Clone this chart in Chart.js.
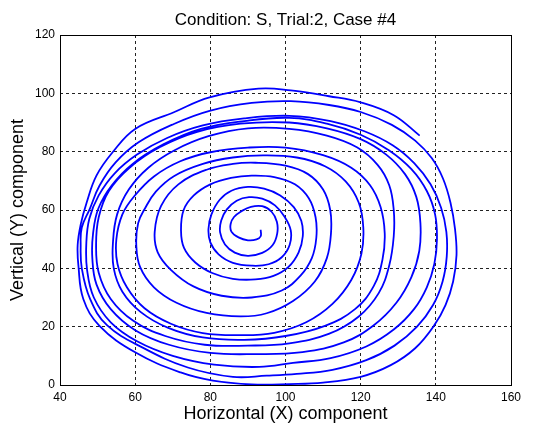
<!DOCTYPE html>
<html>
<head>
<meta charset="utf-8">
<script src="https://cdn.jsdelivr.net/npm/chart.js@4.4.1/dist/chart.umd.min.js"></script>
<style>
  html, body { margin: 0; padding: 0; background: #fff; }
  canvas { display: block; }
</style>
</head>
<body>
<canvas id="spiralChart" width="540" height="428"></canvas>
<script>
const chartTitle = 'Condition: S, Trial:2, Case #4';
const xTitle = 'Horizontal (X) component';
const yTitle = 'Vertical (Y) component';
const xTicks = [40, 60, 80, 100, 120, 140, 160];
const yTicks = [0, 20, 40, 60, 80, 100, 120];

// pen trace: starts in the centre, winds outward clockwise
const spiral = [
  // turn 0
  [93.4,53.2],[93.4,51],[92.3,49.9],[90,49.6],[87.5,50.6],[85.6,52.6],[85.4,55.2],[86.3,57.6],[88.3,59.6],[90.8,61.1],
  [93.8,61.3],[96.3,59.4],[97.7,56],[97.8,52],[96.6,48],[93.8,45.3],
  // turn 1
  [90,44.3],[86.5,45.4],[83.9,48.2],[82.6,52.3],[82.9,56.4],[84.4,60.2],[87,63.2],[90.3,64.4],[93.8,63.9],[97.2,61.6],
  [99.8,57.6],[101.4,53],[101.1,48],[99,43.8],[95.5,41.4],
  // turn 2
  [91.2,40.9],[86,41.9],[82.2,44.8],[80,48.9],[79.5,53.5],[80.3,58.5],[82.5,63.5],[85.6,66.6],[90,67.9],[94.3,67.3],
  [98.6,65],[102.2,61],[104.2,56.3],[104.6,51],[103.5,45.5],[100.8,40.5],[96.8,37.4],
  // turn 3
  [92,36.2],[86,36.4],[80.5,38.4],[76,42],[73,47],[72.2,53],[72.9,60],[75.6,65],[80,68.8],[85.5,71],[91,71.8],
  [97,71.3],[102.5,68.8],[106.2,64],[108,57.5],[108.2,50.5],[107,43.5],[104,37.5],[99,32.4],
  // turn 4
  [91,30],[83,30.6],[75.5,33.8],[69.5,39.5],[66,45.5],[65.2,52.5],[66.9,61.4],[71.5,68.8],[79,73.8],[86,75.8],
  [92,76.2],[100,75.2],[106,72.3],[110,67],[111.9,60],[112.1,52],[111,43.5],[107.8,35.5],[102,28.8],[95,24.6],
  // turn 5
  [88,23.5],[79,24.7],[71,28.2],[65,33.5],[61.3,40.5],[60.3,48],[60.8,55.5],[62.6,60.5],[65.5,66.3],[70.3,71.6],
  [78,75.8],[86,78],[94,78.7],[103,78],[110.5,75],[116,69.8],[119.5,62.5],[120.7,54],[120.2,45],[117.5,36],
  [112.5,27.8],[105.5,21.5],[97,17.9],
  // turn 6
  [88,17.1],[78,17.8],[69.5,21],[62.5,26.3],[57.8,33.5],[55.3,41.5],[55,50],[56.6,58.5],[59.8,64.8],[65,71.5],
  [72,76.7],[80,79.8],[90,81.4],[100,81.4],[110,78.8],[117.5,74.5],[122.5,68.5],[125.3,61],[126.4,52],[125.8,43],
  [123.5,34],[118.5,26],[110.5,20.3],[100,16.8],
  // turn 7
  [89,15.5],[78,16.3],[68.8,19.6],[61.5,25],[56.6,32],[54.3,40],[54.1,49],[55.2,58.5],[58.3,67],[63.5,74.5],
  [70.5,80.5],[79.5,85.3],[90,88],[101,87.8],[111,85.5],[119,81.5],[124.5,75.5],[127.6,68.5],[128.8,60],[128.8,51],
  [127.6,41],[124.8,31.5],[119.5,23.5],[111.5,17.5],[101,14.3],
  // turn 8
  [90,13.5],[78.5,13.8],[68,16.8],[59.5,22],[53.5,29.5],[50.3,38.5],[49.6,48],[50.3,57.5],[53,66.5],[58.5,74.5],
  [66.5,81.5],[76.5,86.8],[88,89.6],[101,90],[111,88],[120,84.3],[126.8,79],[131.8,72.3],[134.8,64.5],[135.9,55.5],
  [135.6,46],[133.5,37],[129.5,28.2],[123.5,20.5],[115.5,14.6],[104.5,11.3],
  // turn 9
  [92,10.6],[80,11],[69,13.8],[60,18.8],[53.5,26],[49.7,34.5],[48.6,43.5],[48.8,52],[50.2,60.5],[53.8,68.5],
  [59.5,76],[67.5,82.5],[77.5,87.8],[89,90.5],[101,91.6],[111,89.6],[120,85.8],[127.5,80.5],[133.5,74],[137.6,66.5],
  [139.8,58.5],[140.3,50],[139.6,41.5],[137.6,33.5],[134.2,26],[128.8,19],[121.5,13.2],[112,9.2],[102,7.6],
  // turn 10
  [93,6.2],[81,7],[70,10],[60.5,15],[53.5,21.5],[49,30],[47.2,39.5],[47,48.5],[47.8,57],[50.3,65],
  [54.5,72.5],[60.5,79],[68.5,84.7],[78,89],[89,91.4],[101,92.3],[112,90.5],[121,87],[128.5,82.2],[134.3,76],
  [138.6,68.8],[141.4,60.8],[142.8,52.5],[142.9,44],[141.8,35.5],[139.3,27.5],[135,20],[129,13.5],[121.5,8.5],[112.5,5.2],
  [103,3.8],
  // turn 11
  [95,3.2],[86,2.8],[74,6],[62,12.8],[52.5,20.5],[48,29.5],[45.8,40],[45.5,48],[45.8,54],[47.9,60.3],
  [50.5,68.3],[54.8,76.3],[60.9,83.2],[70.3,89.5],[79.8,94],[91,96.7],[101.4,97.3],[111.6,96],[120,93.6],[128.3,89.2],
  [134.5,83.8],[138.9,77.8],[141.9,70.8],[143.9,62.5],[145.1,53.5],[145.5,44.5],[144.6,35.5],[142.6,27.5],[139.5,20.3],[134.5,12.6],
  [128,6.8],[120,2.8],[110,0.8],[101,0.3],
  // turn 12, ends top right
  [91,0.2],[80.7,1.5],[72.1,4.3],[60,11.2],[50.5,20.3],[46.2,29.5],[44.9,40.9],[44.7,48],[45.5,55],[47.1,62.6],
  [49.7,71.8],[54,79.8],[60,87.8],[70.3,93.5],[79.8,98.6],[92.8,101.6],[101.4,101],[111.6,99],[120,96.9],[128.8,92.5],
  [135.7,85.5]
];

Chart.defaults.font.family = '"Liberation Sans", Arial, Helvetica, sans-serif';
Chart.defaults.color = '#000';

// solid black box round the plot, like matlab's axes frame
const axesFrame = {
  id: 'axesFrame',
  afterDraw(chart) {
    const { ctx, chartArea: a } = chart;
    ctx.save();
    ctx.strokeStyle = '#000';
    ctx.lineWidth = 1;
    ctx.strokeRect(Math.round(a.left) + 0.5, Math.round(a.top) + 0.5,
      Math.round(a.right - a.left), Math.round(a.bottom - a.top));
    ctx.restore();
  }
};

const gridOpts = {
  color: '#222',
  lineWidth: 1,
  drawTicks: false
};

new Chart(document.getElementById('spiralChart'), {
  type: 'scatter',
  data: {
    datasets: [{
      data: spiral.map(([x, y]) => ({ x, y })),
      showLine: true,
      borderColor: '#0000ff',
      borderWidth: 1.8,
      pointRadius: 0,
      tension: 0.4,
      fill: false
    }]
  },
  options: {
    responsive: false,
    animation: false,
    events: [],
    layout: { padding: { left: 0, right: 29, top: 0, bottom: 0 } },
    plugins: {
      legend: { display: false },
      tooltip: { enabled: false },
      title: {
        display: true,
        fullSize: false,
        text: chartTitle,
        font: { size: 17, weight: 'normal' },
        color: '#000',
        padding: { top: 10, bottom: 4.6 }
      }
    },
    scales: {
      x: {
        type: 'linear',
        min: 40,
        max: 160,
        afterBuildTicks: (s) => { s.ticks = xTicks.map((v) => ({ value: v })); },
        afterFit: (s) => { s.height = 43; },
        grid: gridOpts,
        border: { display: false, dash: [3, 3] },
        ticks: { font: { size: 12 }, padding: 5, maxRotation: 0 },
        title: { display: true, text: xTitle, font: { size: 18 }, padding: { top: 0, bottom: 3 } }
      },
      y: {
        type: 'linear',
        min: 0,
        max: 120,
        afterBuildTicks: (s) => { s.ticks = yTicks.map((v) => ({ value: v })); },
        afterFit: (s) => { s.width = 60; },
        grid: gridOpts,
        border: { display: false, dash: [3, 3] },
        ticks: { font: { size: 12 }, padding: 5 },
        title: { display: true, text: yTitle, font: { size: 18 }, padding: { top: 7, bottom: 0 } }
      }
    }
  },
  plugins: [axesFrame]
});
</script>
</body>
</html>
